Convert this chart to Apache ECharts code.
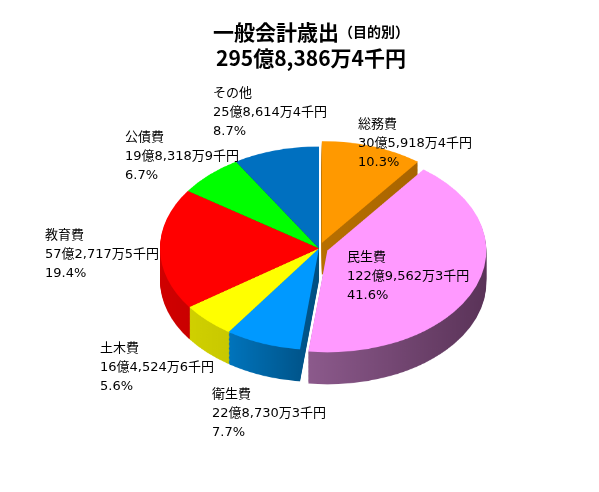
<!DOCTYPE html>
<html>
<head>
<meta charset="utf-8">
<script src="https://cdn.jsdelivr.net/npm/echarts@6/dist/echarts.min.js"></script>
<style>
  html, body { margin: 0; padding: 0; background: #fff; }
  #wrap { position: relative; width: 599px; height: 492px; overflow: hidden; }
  #pie { position: absolute; left: 0; top: 0; width: 599px; height: 769px;
         transform: scaleY(0.64); transform-origin: 0 0; }
  #txt { position: absolute; left: 0; top: 0; width: 599px; height: 492px; }
</style>
</head>
<body>
<div id="wrap">
  <div id="pie"></div>
  <div id="txt"></div>
</div>
<script>
// ---- data ----
const categories = ['総務費', '民生費', '衛生費', '土木費', '教育費', '公債費', 'その他'];
// amounts in 万円
const values = [305918.4, 1229562.3, 228730.3, 164524.6, 572717.5, 198318.9, 258614.4];
const amountLabels = ['30億5,918万4千円', '122億9,562万3千円', '22億8,730万3千円', '16億4,524万6千円',
                      '57億2,717万5千円', '19億8,318万9千円', '25億8,614万4千円'];
const exploded = ['総務費', '民生費'];
const titleMain = '一般会計歳出';
const titleSub = '（目的別）';
const titleTotal = '295億8,386万4千円';

// ---- styles / layout ----
const topColors  = ['#FF9900', '#FF99FF', '#0099FF', '#FFFF00', '#FF0000', '#00FF00', '#0070C0'];
const sideFrom   = ['#B87000', '#8C5A8C', '#0074BC', '#D0D000', '#D00000', '#007A00', '#003A6A'];
const sideTo     = ['#A86400', '#5A3358', '#004E80', '#B8B800', '#B00000', '#006000', '#002A50'];
const labelPos = [[358, 123], [347, 256], [212, 393], [100, 347], [45, 234], [125, 136], [213, 92]];
const FONT = '"DejaVu Sans", "Noto Sans CJK JP", sans-serif';
const TITLE_FONT = '"Noto Sans CJK JP", "Noto Sans", sans-serif';

const total = values.reduce((a, b) => a + b, 0);
const pct = values.map(v => (v / total * 100).toFixed(1) + '%');

// ---- pie (scaled to an ellipse, with stacked layers for depth) ----
const cx = 319, cy = 388, R = 159, depth = 50, step = 2;
function makeData(isTop) {
  return categories.map((c, i) => ({
    name: c, value: values[i],
    selected: exploded.indexOf(c) >= 0,
    itemStyle: {
      color: isTop ? topColors[i] : new echarts.graphic.LinearGradient(0, 0, 1, 0, [
        { offset: 0, color: sideFrom[i] }, { offset: 1, color: sideTo[i] }
      ])
    }
  }));
}
const series = [];
for (let d = depth; d >= 0; d -= step) {
  const isTop = d === 0;
  series.push({
    type: 'pie',
    center: [cx, cy + d],
    radius: [0, R],
    startAngle: 90,
    clockwise: true,
    selectedMode: 'multiple',
    selectedOffset: 9,
    silent: true,
    animation: false,
    label: { show: false },
    labelLine: { show: false },
    emphasis: { disabled: true },
    itemStyle: { borderWidth: 0 },
    data: makeData(isTop)
  });
}
const pie = echarts.init(document.getElementById('pie'));
pie.setOption({ animation: false, series: series });

// ---- text overlay ----
const graphics = [{
  type: 'text',
  x: 311, y: 18,
  style: {
    text: '{a|' + titleMain + '}{b|' + titleSub + '}\n{a|' + titleTotal + '}',
    align: 'center',
    verticalAlign: 'top',
    rich: {
      a: { fontFamily: TITLE_FONT, fontSize: 21, fontWeight: 'bold', fill: '#000', lineHeight: 26 },
      b: { fontFamily: TITLE_FONT, fontSize: 14, fontWeight: 'bold', fill: '#000', lineHeight: 26 }
    }
  }
}];
categories.forEach((c, i) => {
  graphics.push({
    type: 'text',
    x: labelPos[i][0], y: labelPos[i][1] - 9.5,
    style: {
      text: c + '\n' + amountLabels[i] + '\n' + pct[i],
      fontFamily: FONT, fontSize: 13, fill: '#000',
      lineHeight: 19, align: 'left', verticalAlign: 'top'
    }
  });
});
const txt = echarts.init(document.getElementById('txt'), null, { renderer: 'svg' });
txt.setOption({ animation: false, graphic: graphics });
</script>
</body>
</html>
